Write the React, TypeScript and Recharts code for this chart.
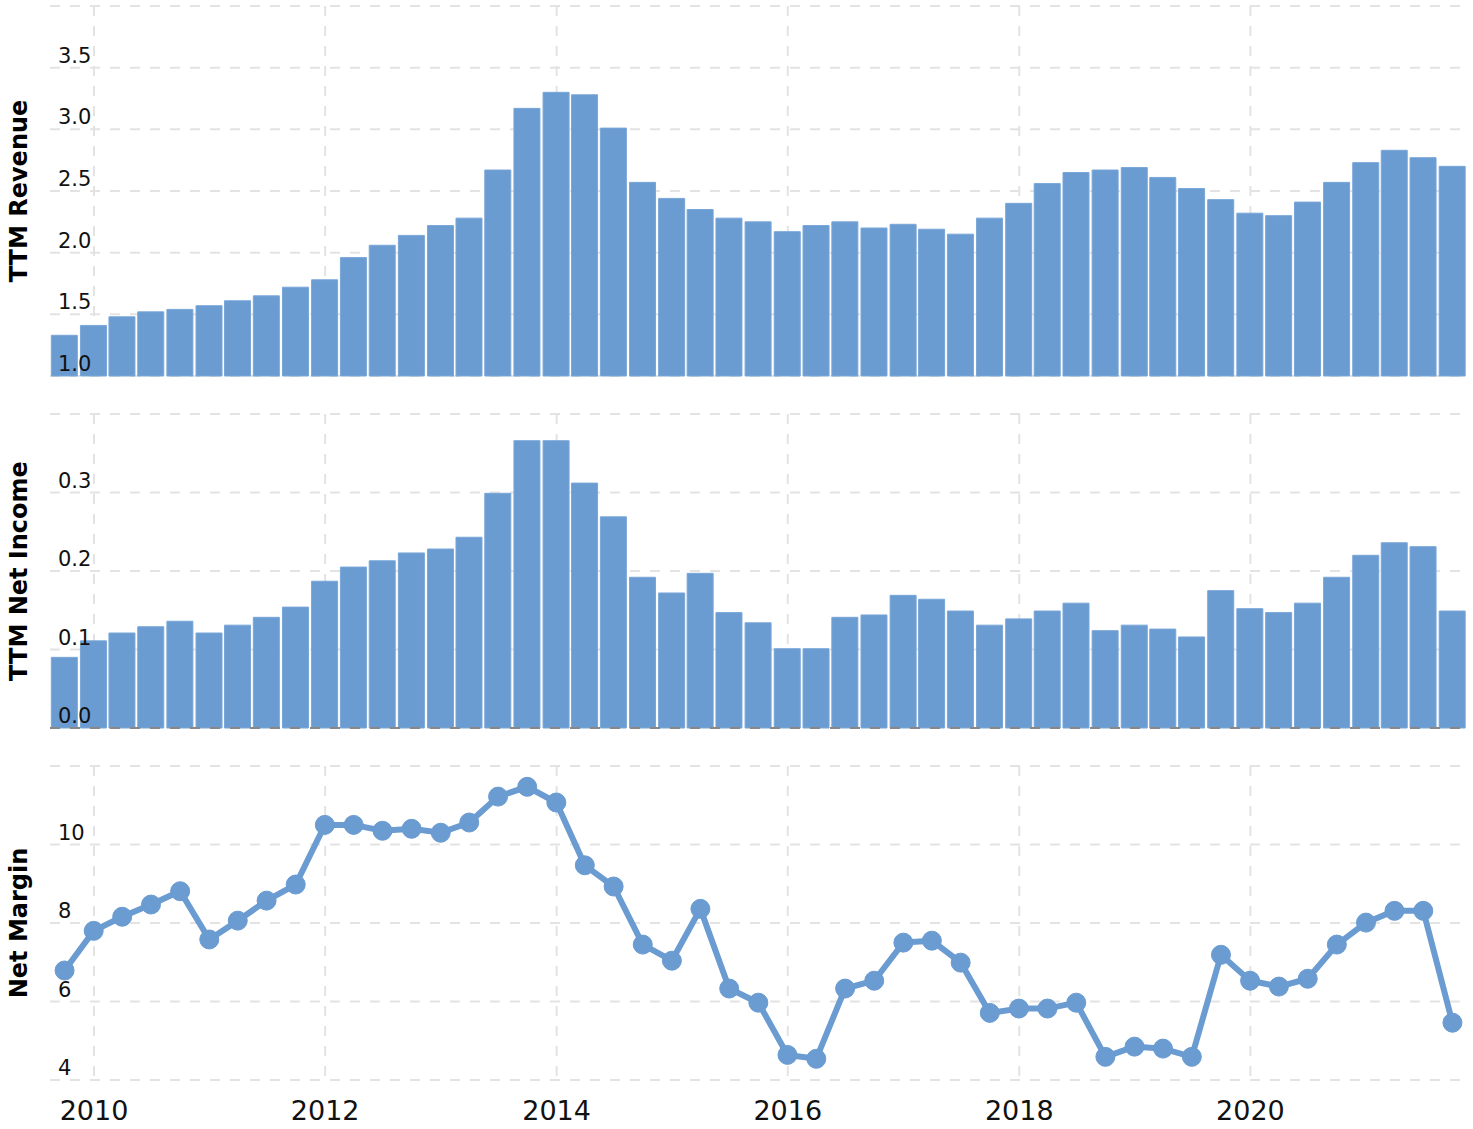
import React from "react";
import {
  BarChart,
  LineChart,
  Bar,
  Line,
  XAxis,
  YAxis,
  CartesianGrid,
  ReferenceLine,
} from "recharts";

// quarter end dates
const quarters = [
  "2009-09-30", "2009-12-31",
  "2010-03-31", "2010-06-30", "2010-09-30", "2010-12-31",
  "2011-03-31", "2011-06-30", "2011-09-30", "2011-12-31",
  "2012-03-31", "2012-06-30", "2012-09-30", "2012-12-31",
  "2013-03-31", "2013-06-30", "2013-09-30", "2013-12-31",
  "2014-03-31", "2014-06-30", "2014-09-30", "2014-12-31",
  "2015-03-31", "2015-06-30", "2015-09-30", "2015-12-31",
  "2016-03-31", "2016-06-30", "2016-09-30", "2016-12-31",
  "2017-03-31", "2017-06-30", "2017-09-30", "2017-12-31",
  "2018-03-31", "2018-06-30", "2018-09-30", "2018-12-31",
  "2019-03-31", "2019-06-30", "2019-09-30", "2019-12-31",
  "2020-03-31", "2020-06-30", "2020-09-30", "2020-12-31",
  "2021-03-31", "2021-06-30", "2021-09-30",
];

const ttmRevenue = [
  1.33, 1.41, 1.48, 1.52, 1.54, 1.57, 1.61, 1.65, 1.72, 1.78,
  1.96, 2.06, 2.14, 2.22, 2.28, 2.67, 3.17, 3.30, 3.28, 3.01,
  2.57, 2.44, 2.35, 2.28, 2.25, 2.17, 2.22, 2.25, 2.20, 2.23,
  2.19, 2.15, 2.28, 2.40, 2.56, 2.65, 2.67, 2.69, 2.61, 2.52,
  2.43, 2.32, 2.30, 2.41, 2.57, 2.73, 2.83, 2.77, 2.70,
];

const ttmNetIncome = [
  0.090, 0.111, 0.121, 0.129, 0.136, 0.121, 0.131, 0.141, 0.154, 0.187,
  0.205, 0.213, 0.223, 0.228, 0.243, 0.299, 0.366, 0.366, 0.312, 0.269,
  0.192, 0.172, 0.197, 0.147, 0.134, 0.101, 0.101, 0.141, 0.144, 0.169,
  0.164, 0.149, 0.131, 0.139, 0.149, 0.159, 0.124, 0.131, 0.126, 0.116,
  0.175, 0.152, 0.147, 0.159, 0.192, 0.220, 0.236, 0.231, 0.149,
];

const netMargin = [
  6.79, 7.80, 8.16, 8.47, 8.81, 7.58, 8.06, 8.57, 8.98, 10.50,
  10.50, 10.35, 10.40, 10.30, 10.56, 11.22, 11.47, 11.07, 9.47, 8.93,
  7.45, 7.04, 8.36, 6.33, 5.97, 4.64, 4.54, 6.33, 6.53, 7.50,
  7.55, 6.99, 5.71, 5.82, 5.82, 5.97, 4.59, 4.85, 4.80, 4.59,
  7.19, 6.53, 6.38, 6.58, 7.45, 8.01, 8.31, 8.31, 5.46,
];

const yearTicks = ["2010", "2012", "2014", "2016", "2018", "2020"];
const revenueTicks = [1.0, 1.5, 2.0, 2.5, 3.0, 3.5, 4.0];
const incomeTicks = [0.0, 0.1, 0.2, 0.3, 0.4];
const marginTicks = [4, 6, 8, 10, 12];

const toTime = (s: string) => {
  const [y, m, d] = s.split("-").map(Number);
  return Date.UTC(y, m - 1, d);
};

const DAY = 86400000;
const data = quarters.map((q, i) => ({
  t: toTime(q),
  revenue: ttmRevenue[i],
  income: ttmNetIncome[i],
  margin: netMargin[i],
}));
const xDomain = [data[0].t - 46 * DAY, data[data.length - 1].t + 46 * DAY];
const xTicks = yearTicks.map((y) => Date.UTC(Number(y), 0, 1));

const W = 1473;
const LEFT = 50;
const RIGHT = 6;
const FONT = "'DejaVu Sans', Verdana, sans-serif";
const BLUE = "#6a9bd1";
const GRID = "#e3e3e3";

// vertical grid only at the year ticks, via the x axis scale
const yearGrid = (props: any) => {
  const scale = props?.xAxis?.scale;
  if (typeof scale === "function") return xTicks.map((t) => scale(t));
  const pw = W - LEFT - RIGHT;
  return xTicks.map((t) => LEFT + ((t - xDomain[0]) / (xDomain[1] - xDomain[0])) * pw);
};

function yTick(top: number, fmt: (v: number) => string) {
  return (props: any) => {
    const { y, payload } = props;
    if (Math.abs(payload.value - top) < 1e-9) return <g />;
    return (
      <text x={58} y={y - 5} fontSize={21} fill="#111" fontFamily={FONT} textAnchor="start">
        {fmt(payload.value)}
      </text>
    );
  };
}

function yTitle(text: string) {
  return {
    value: text,
    content: (props: any) => {
      const vb = props.viewBox || {};
      const cy = (vb.y ?? 0) + (vb.height ?? 0) / 2;
      return (
        <text
          transform={`translate(27, ${cy}) rotate(-90)`}
          textAnchor="middle"
          fontSize={24}
          fontWeight="bold"
          fill="#000"
          fontFamily={FONT}
        >
          {text}
        </text>
      );
    },
  };
}

const xTickLabel = (props: any) => {
  const { x, payload } = props;
  return (
    <text x={x} y={380} fontSize={27} fill="#111" fontFamily={FONT} textAnchor="middle">
      {new Date(payload.value).getUTCFullYear()}
    </text>
  );
};

export default function App() {
  return (
    <div style={{ position: "absolute", left: 0, top: 0, width: W, height: 1129, background: "#fff" }}>
      <div style={{ position: "absolute", left: 0, top: 0 }}>
        <BarChart width={W} height={390} data={data} margin={{ top: 6, right: RIGHT, bottom: 14, left: 0 }}>
          <CartesianGrid
            stroke={GRID}
            strokeWidth={2}
            strokeDasharray="10 10"
            verticalCoordinatesGenerator={yearGrid}
          />
          <XAxis dataKey="t" type="number" domain={xDomain} ticks={xTicks} interval={0} hide />
          <YAxis
            type="number"
            domain={[1, 4]}
            ticks={revenueTicks}
            interval={0}
            width={LEFT}
            axisLine={false}
            tickLine={false}
            tick={yTick(4, (v) => v.toFixed(1))}
            label={yTitle("TTM Revenue")}
          />
          <Bar dataKey="revenue" fill={BLUE} stroke="#79a6d8" strokeWidth={1} barSize={26} isAnimationActive={false} />
        </BarChart>
      </div>
      <div style={{ position: "absolute", left: 0, top: 390 }}>
        <BarChart width={W} height={350} data={data} margin={{ top: 24, right: RIGHT, bottom: 12, left: 0 }}>
          <CartesianGrid
            stroke={GRID}
            strokeWidth={2}
            strokeDasharray="10 10"
            verticalCoordinatesGenerator={yearGrid}
          />
          <XAxis dataKey="t" type="number" domain={xDomain} ticks={xTicks} interval={0} hide />
          <YAxis
            type="number"
            domain={[0, 0.4]}
            ticks={incomeTicks}
            interval={0}
            width={LEFT}
            axisLine={false}
            tickLine={false}
            tick={yTick(0.4, (v) => v.toFixed(1))}
            label={yTitle("TTM Net Income")}
          />
          <Bar dataKey="income" fill={BLUE} stroke="#79a6d8" strokeWidth={1} barSize={26} isAnimationActive={false} />
          <ReferenceLine y={0} stroke="#888" strokeWidth={2} strokeDasharray="10 10" />
        </BarChart>
      </div>
      <div style={{ position: "absolute", left: 0, top: 740 }}>
        <LineChart width={W} height={389} data={data} margin={{ top: 26, right: RIGHT, bottom: 0, left: 0 }}>
          <CartesianGrid
            stroke={GRID}
            strokeWidth={2}
            strokeDasharray="10 10"
            verticalCoordinatesGenerator={yearGrid}
          />
          <XAxis
            dataKey="t"
            type="number"
            domain={xDomain}
            ticks={xTicks}
            interval={0}
            height={49}
            axisLine={false}
            tickLine={false}
            tick={xTickLabel}
          />
          <YAxis
            type="number"
            domain={[4, 12]}
            ticks={marginTicks}
            interval={0}
            width={LEFT}
            axisLine={false}
            tickLine={false}
            tick={yTick(12, (v) => String(v))}
            label={yTitle("Net Margin")}
          />
          <Line
            type="linear"
            dataKey="margin"
            stroke={BLUE}
            strokeWidth={6}
            dot={{ r: 9.5, fill: BLUE, stroke: BLUE, strokeWidth: 1 }}
            activeDot={false}
            isAnimationActive={false}
          />
        </LineChart>
      </div>
    </div>
  );
}
